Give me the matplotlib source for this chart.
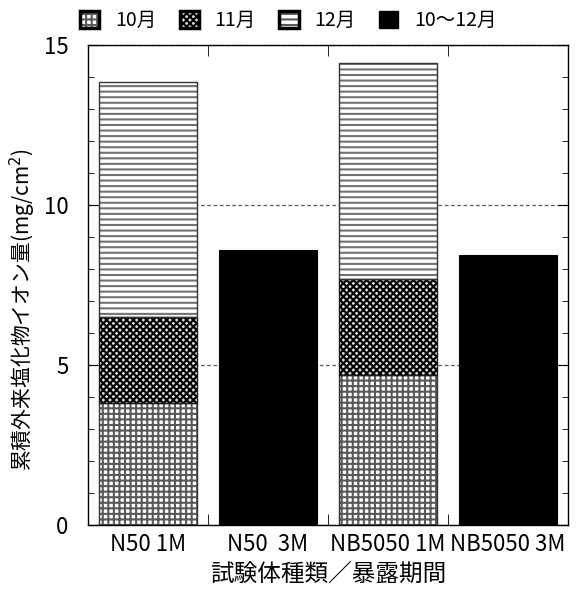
import matplotlib
matplotlib.use("Agg")
import matplotlib.pyplot as plt
import numpy as np
from matplotlib.patches import Patch
from matplotlib.ticker import MultipleLocator

plt.rcParams['font.family'] = ['Noto Sans CJK JP', 'DejaVu Sans']
plt.rcParams['hatch.linewidth'] = 1.5

# data
categories = ["N50 1M", "N50  3M", "NB5050 1M", "NB5050 3M"]
oct_vals = [3.8, 0, 4.7, 0]
nov_vals = [2.7, 0, 3.0, 0]
dec_vals = [7.35, 0, 6.75, 0]
total_vals = [0, 8.6, 0, 8.45]
legend_labels = ["10月", "11月", "12月", "10〜12月"]

x = np.arange(len(categories))
w = 0.82

fig = plt.figure(figsize=(5.79, 5.89), dpi=100)
ax = fig.add_axes([88 / 579, 64 / 589, 480 / 579, 480 / 589])

ax.yaxis.grid(True, linestyle=(0, (3, 2)), color="0.35", linewidth=0.9, zorder=0)
ax.set_axisbelow(True)

nov_bottom = np.array(oct_vals)
dec_bottom = nov_bottom + np.array(nov_vals)

idx = [0, 2]
ax.bar(x[idx], np.array(oct_vals)[idx], w, color="white", edgecolor="0.35", hatch="+++", linewidth=0, zorder=2)
ax.bar(x[idx], np.array(nov_vals)[idx], w, bottom=nov_bottom[idx], color="0.85", edgecolor="black", hatch="xxxxx", linewidth=0, zorder=2)
ax.bar(x[idx], np.array(dec_vals)[idx], w, bottom=dec_bottom[idx], color="white", edgecolor="0.45", hatch="---", linewidth=0, zorder=2)
# outlines
ax.bar(x[idx], np.array(oct_vals)[idx], w, fill=False, edgecolor="0.2", linewidth=1.0, zorder=3)
ax.bar(x[idx], np.array(nov_vals)[idx], w, bottom=nov_bottom[idx], fill=False, edgecolor="0.1", linewidth=1.0, zorder=3)
ax.bar(x[idx], np.array(dec_vals)[idx], w, bottom=dec_bottom[idx], fill=False, edgecolor="0.2", linewidth=1.0, zorder=3)

idx2 = [1, 3]
ax.bar(x[idx2], np.array(total_vals)[idx2], w, color="black", edgecolor="black", linewidth=0.8, zorder=2)

ax.set_xlim(-0.5, 3.5)
ax.set_ylim(0, 15)
ax.set_xticks(x)
ax.set_xticklabels(categories, fontsize=16)
ax.set_xticks([0.5, 1.5, 2.5], minor=True)
ax.tick_params(axis="x", which="major", length=0, pad=6)
ax.tick_params(axis="x", which="minor", direction="in", length=8, top=True, bottom=True)
ax.set_yticks([0, 5, 10, 15])
ax.yaxis.set_minor_locator(MultipleLocator(1))
ax.tick_params(axis="y", which="both", direction="in", left=True, right=True, labelsize=16)
ax.tick_params(axis="y", which="major", length=7, pad=14)
ax.tick_params(axis="y", which="minor", length=4)
for s in ax.spines.values():
    s.set_linewidth(1.0)

ax.set_xlabel("試験体種類／暴露期間", fontsize=17)
ax.xaxis.set_label_coords(0.5, -0.08)
ax.set_ylabel("累積外来塩化物イオン量(mg/cm$^2$)", fontsize=15)
ax.yaxis.set_label_coords(-0.105, 0.448)

handles = [
    (Patch(facecolor="white", edgecolor="0.35", hatch="+++", linewidth=0),
     Patch(fill=False, edgecolor="black", linewidth=2.5)),
    (Patch(facecolor="0.85", edgecolor="black", hatch="xxxxx", linewidth=0),
     Patch(fill=False, edgecolor="black", linewidth=2.5)),
    (Patch(facecolor="white", edgecolor="0.35", hatch="---", linewidth=0),
     Patch(fill=False, edgecolor="black", linewidth=2.5)),
    Patch(facecolor="black", edgecolor="black"),
]
fig.legend(handles, legend_labels, loc="upper left", bbox_to_anchor=(80 / 579, 1 - 10 / 589), ncol=4,
           frameon=False, fontsize=14, handlelength=1.0, handleheight=1.0,
           columnspacing=1.2, handletextpad=0.8, borderpad=0, borderaxespad=0)

fig.savefig("out.png", dpi=100)
